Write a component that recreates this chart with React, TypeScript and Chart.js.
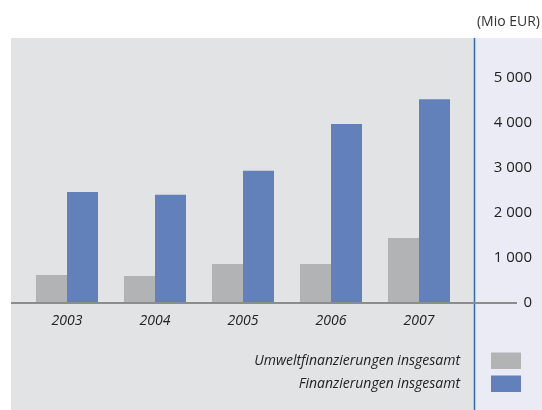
import React, { useEffect, useRef } from "react";
import { Chart, registerables } from "chart.js";

Chart.register(...registerables);

const years = ["2003", "2004", "2005", "2006", "2007"];
const umweltValues = [620, 600, 865, 865, 1440];
const gesamtValues = [2460, 2400, 2930, 3970, 4520];
const seriesLabels = ["Umweltfinanzierungen insgesamt", "Finanzierungen insgesamt"];
const seriesColors = ["#b2b3b5", "#6280ba"];
const unitLabel = "(Mio EUR)";
const yTicks = [0, 1000, 2000, 3000, 4000, 5000];

const FONT = "'Open Sans', 'Noto Sans', sans-serif";

const fmt = (v: number) => String(v).replace(/\B(?=(\d{3})+(?!\d))/g, " ");

const decorPlugin = {
  id: "decor",
  beforeDraw(chart: any) {
    const ctx = chart.ctx;
    const W = chart.width;
    const H = chart.height;
    ctx.save();
    ctx.fillStyle = "#ffffff";
    ctx.fillRect(0, 0, W, H);
    // left grey panel
    ctx.fillStyle = "#e2e3e5";
    ctx.fillRect(11, 38, 474 - 11, H - 38);
    // right lavender panel
    ctx.fillStyle = "#ebebf6";
    ctx.fillRect(474, 38, W - 474, H - 38);
    // vertical divider
    ctx.strokeStyle = "#2e6db4";
    ctx.lineWidth = 1.5;
    ctx.beginPath();
    ctx.moveTo(474.5, 38);
    ctx.lineTo(474.5, H);
    ctx.stroke();
    // unit label
    ctx.fillStyle = "#333333";
    ctx.font = `14px ${FONT}`;
    ctx.textAlign = "right";
    ctx.textBaseline = "middle";
    ctx.fillText(unitLabel, 540, 22);
    ctx.restore();
  },
  afterDatasetsDraw(chart: any) {
    const ctx = chart.ctx;
    const y0 = chart.scales.y.getPixelForValue(0);
    ctx.save();
    ctx.strokeStyle = "#8c8c8c";
    ctx.lineWidth = 2;
    ctx.beginPath();
    ctx.moveTo(11, y0);
    ctx.lineTo(517, y0);
    ctx.stroke();
    ctx.restore();
  },
  afterDraw(chart: any) {
    const ctx = chart.ctx;
    ctx.save();
    ctx.font = `italic 14px ${FONT}`;
    ctx.textAlign = "right";
    ctx.textBaseline = "middle";
    chart.data.datasets.forEach((ds: any, i: number) => {
      const cy = 361 + i * 23;
      ctx.fillStyle = "#222222";
      ctx.fillText(ds.label, 460, cy);
      ctx.fillStyle = ds.backgroundColor;
      ctx.fillRect(491, cy - 8.5, 30, 16.5);
    });
    ctx.restore();
  },
};

export default function App() {
  const ref = useRef<HTMLCanvasElement | null>(null);

  useEffect(() => {
    document.body.style.margin = "0";
    const canvas = ref.current;
    if (!canvas) return;
    const chart = new Chart(canvas, {
      type: "bar",
      data: {
        labels: years,
        datasets: [
          {
            label: seriesLabels[0],
            data: umweltValues,
            backgroundColor: seriesColors[0],
            borderWidth: 0,
            barPercentage: 1,
            categoryPercentage: 0.705,
          },
          {
            label: seriesLabels[1],
            data: gesamtValues,
            backgroundColor: seriesColors[1],
            borderWidth: 0,
            barPercentage: 1,
            categoryPercentage: 0.705,
          },
        ],
      },
      options: {
        animation: false,
        responsive: false,
        devicePixelRatio: 1,
        layout: { padding: { left: 23, right: 10, top: 77.5, bottom: 0 } },
        plugins: {
          legend: { display: false },
          tooltip: { enabled: false },
          title: { display: false },
        },
        scales: {
          x: {
            position: "bottom",
            grid: { display: false, drawTicks: false },
            border: { display: false },
            ticks: {
              color: "#222222",
              font: { family: FONT, size: 14, style: "italic" },
              padding: 10,
              maxRotation: 0,
            },
            afterFit(scale: any) {
              scale.height = 107;
            },
          },
          y: {
            position: "right",
            min: 0,
            max: 5000,
            grid: { display: false, drawTicks: false },
            border: { display: false },
            afterBuildTicks(scale: any) {
              scale.ticks = yTicks.map((v) => ({ value: v }));
            },
            ticks: {
              color: "#222222",
              font: { family: FONT, size: 15 },
              crossAlign: "far",
              callback: (v: any) => fmt(Number(v)),
            },
            afterFit(scale: any) {
              scale.width = 69;
            },
          },
        },
      },
      plugins: [decorPlugin],
    });
    return () => chart.destroy();
  }, []);

  return (
    <div style={{ width: 542, height: 410 }}>
      <canvas ref={ref} width={542} height={410} style={{ display: "block", width: 542, height: 410 }} />
    </div>
  );
}
